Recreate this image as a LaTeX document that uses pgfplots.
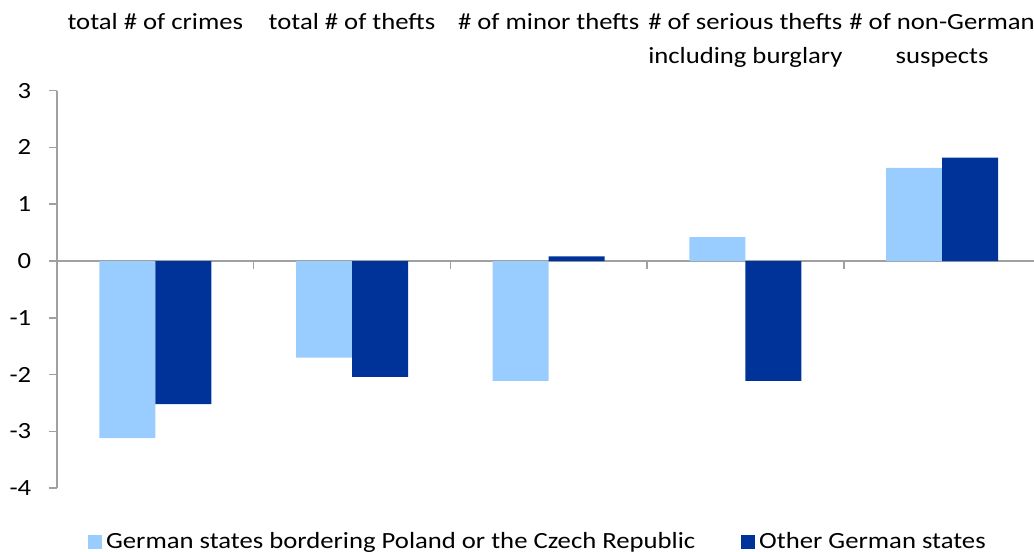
\documentclass[border=0pt]{standalone}
\usepackage{pgfplots}
\pgfplotsset{compat=1.18}
\usepackage{fontspec}
\setmainfont{Carlito}[FakeStretch=1.15]
\definecolor{lightbar}{HTML}{99CCFF}
\definecolor{darkbar}{HTML}{003399}
\definecolor{axgray}{HTML}{A0A0A0}
\pgfplotsset{sqleg/.style={legend image code/.code={\fill[##1] (0pt,-3.6pt) rectangle (7pt,3.6pt);}}}
\newcommand{\cfont}{\fontsize{11.6}{17}\selectfont}
\begin{document}
\begin{tikzpicture}
\begin{axis}[
  name=ax,
  scale only axis,
  width=491.7pt, height=198.8pt,
  xmin=-0.5, xmax=4.5,
  ymin=-4, ymax=3,
  ytick={-4,-3,-2,-1,0,1,2,3},
  axis y line*=left,
  axis x line*=top,
  x axis line style={draw=none},
  y axis line style={axgray, line width=0.8pt},
  xtick={0,1,2,3,4},
  xticklabels={total \# of crimes, total \# of thefts, \# of minor thefts, {\# of serious thefts\\including burglary}, {\# of non-German\\suspects}},
  xticklabel style={align=center, anchor=north, inner sep=0pt, yshift=34.5pt, font=\cfont},
  yticklabel style={inner sep=0pt, anchor=east, xshift=-8.5pt, font=\cfont},
  x tick style={draw=none},
  y tick style={axgray, line width=0.8pt},
  tick align=outside,
  major tick length=4.2pt,
  ybar=0pt, bar width=28pt,
  /pgf/number format/assume math mode=true,
  extra y ticks={0},
  extra y tick labels={},
  extra y tick style={grid=major, major grid style={axgray, line width=0.8pt}, tick style={draw=none}},
  legend style={at={(0.49,-0.135)}, anchor=center, draw=none, font=\cfont, legend columns=2,
    /tikz/every even column/.append style={column sep=21pt}},
  legend cell align=left,
]
\addplot[fill=lightbar, draw=none, sqleg] coordinates {(0,-3.12) (1,-1.70) (2,-2.11) (3,0.42) (4,1.64)};
\addlegendentry{German states bordering Poland or the Czech Republic}
\addplot[fill=darkbar, draw=none, sqleg] coordinates {(0,-2.52) (1,-2.04) (2,0.08) (3,-2.11) (4,1.82)};
\addlegendentry{Other German states}
\pgfplotsinvokeforeach{0.5,1.5,2.5,3.5,4.5}{\draw[axgray, line width=0.8pt] (axis cs:#1,0) -- ++(0pt,-4.2pt);}
\coordinate (bl) at (rel axis cs:0,0);
\coordinate (tl) at (rel axis cs:0,1);
\end{axis}
\pgfresetboundingbox
\path[use as bounding box] ([xshift=-28.5pt,yshift=-31.8pt]bl) rectangle ([xshift=488.5pt,yshift=45.3pt]tl);
\end{tikzpicture}
\end{document}
